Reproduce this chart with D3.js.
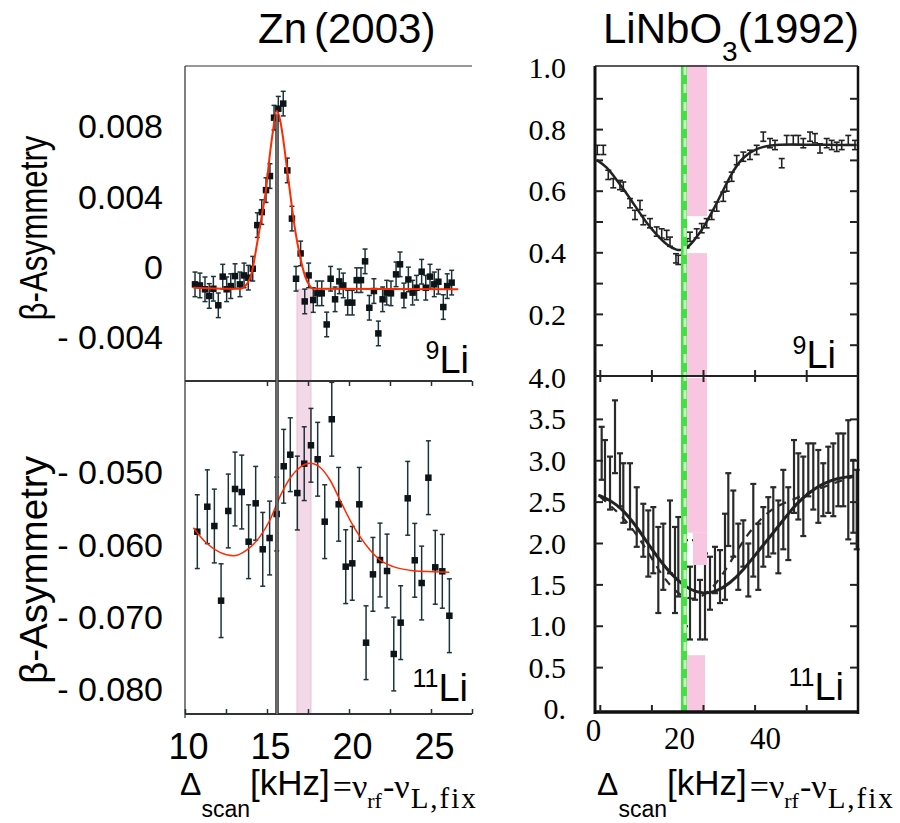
<!DOCTYPE html>
<html>
<head>
<meta charset="utf-8">
<script src="https://cdn.jsdelivr.net/npm/d3@7"></script>
<style>
  body { margin: 0; background: #fff; }
  svg { display: block; }
  .sans { font-family: "Liberation Sans", Arial, sans-serif; }
  .serif { font-family: "Liberation Serif", "Times New Roman", serif; }
</style>
</head>
<body>
<svg id="chart" width="900" height="823"></svg>
<script>
// ---- Zn (2003), 9Li ----
const zn9Freq = [10.61, 10.91, 11.22, 11.48, 11.73, 12.03, 12.30, 12.54, 12.79, 13.05, 13.35, 13.60, 13.86, 14.13, 14.41, 14.68, 14.94, 15.18, 15.43, 15.69, 15.99, 16.24, 16.52, 16.77, 17.05, 17.30, 17.54, 17.82, 18.07, 18.34, 18.64, 18.88, 19.15, 19.41, 19.65, 19.92, 20.20, 20.47, 20.73, 20.98, 21.24, 21.52, 21.79, 22.05, 22.30, 22.56, 22.87, 23.11, 23.35, 23.62, 23.88, 24.12, 24.43, 24.68, 24.94, 25.20, 25.45, 25.75, 25.99, 26.26];
const zn9Asym = [-0.00095, -0.00101, -0.00123, -0.00161, -0.00120, -0.00214, -0.00051, -0.00123, -0.00105, -0.00048, -0.00095, -0.00044, -0.00057, -0.00006, 0.00242, 0.00316, 0.00441, 0.00521, 0.00853, 0.00904, 0.00933, 0.00553, 0.00279, -0.00063, 0.00081, -0.00192, -0.00044, -0.00184, -0.00146, -0.00146, -0.00323, -0.00063, -0.00180, -0.00078, -0.00101, -0.00199, -0.00199, -0.00071, -0.00071, 0.00036, -0.00228, -0.00133, -0.00374, -0.00180, -0.00142, -0.00146, -0.00038, 0.00019, -0.00158, -0.00067, -0.00142, -0.00114, -0.00023, -0.00114, -0.00051, -0.00095, -0.00080, -0.00224, -0.00105, -0.00085];
const zn9Err = 0.0007;
const zn9FitFreq = [10.51, 13.35, 13.76, 14.07, 14.37, 14.68, 14.94, 15.14, 15.35, 15.59, 15.79, 15.99, 16.20, 16.46, 16.71, 17.01, 17.32, 17.62, 17.82, 26.66];
const zn9FitAsym = [-0.00114, -0.00120, -0.00095, -0.00029, 0.00123, 0.00294, 0.00445, 0.00616, 0.00768, 0.00891, 0.00844, 0.00730, 0.00578, 0.00389, 0.00218, 0.00066, -0.00048, -0.00105, -0.00120, -0.00123];

// ---- Zn (2003), 11Li ----
const zn11Freq = [10.75, 11.36, 11.79, 12.20, 12.64, 13.05, 13.46, 13.88, 14.31, 14.74, 15.16, 15.59, 16.02, 16.42, 16.85, 17.27, 17.68, 18.09, 18.52, 18.95, 19.37, 19.80, 20.20, 20.63, 21.04, 21.46, 21.89, 22.32, 22.73, 23.15, 23.58, 24.01, 24.43, 24.84, 25.26, 25.69, 26.12];
const zn11Asym = [-0.05811, -0.05466, -0.05733, -0.06765, -0.05525, -0.05221, -0.05263, -0.05950, -0.05419, -0.06055, -0.05899, -0.05567, -0.04907, -0.04747, -0.05277, -0.04871, -0.04617, -0.04810, -0.05673, -0.04257, -0.05433, -0.06295, -0.06249, -0.05433, -0.07346, -0.06401, -0.06203, -0.06355, -0.07502, -0.07069, -0.05350, -0.06207, -0.06521, -0.05065, -0.06304, -0.06359, -0.06973];
const zn11Err = 0.0051;
const zn11FitFreq = [10.51, 11.32, 12.13, 12.95, 13.76, 14.57, 15.18, 15.79, 16.40, 17.01, 17.62, 18.23, 18.84, 19.45, 20.06, 20.67, 21.28, 21.89, 22.70, 23.92, 25.14, 26.12];
const zn11FitAsym = [-0.05756, -0.05972, -0.06097, -0.06143, -0.06065, -0.05880, -0.05650, -0.05327, -0.05073, -0.04921, -0.04866, -0.04921, -0.05097, -0.05373, -0.05650, -0.05880, -0.06065, -0.06203, -0.06295, -0.06350, -0.06364, -0.06373];

const znMarkerFreq = 15.61;
const znBand = [16.83, 17.68];

// ---- LiNbO3 (1992), 9Li ----
const lnb9Freq = [0.30, 1.70, 2.86, 4.02, 5.58, 6.35, 7.91, 9.07, 10.23, 11.00, 12.56, 14.12, 15.28, 16.44, 17.21, 18.60, 19.14, 21.09, 21.86, 23.42, 24.58, 25.74, 26.91, 28.07, 29.60, 30.40, 31.56, 32.72, 34.26, 35.81, 37.37, 38.91, 40.47, 41.63, 43.19, 44.35, 45.88, 47.05, 48.21, 49.77, 50.93, 52.09, 53.65, 54.81, 55.98, 57.14, 58.67, 60.23];
const lnb9Asym = [0.734, 0.734, 0.653, 0.626, 0.620, 0.615, 0.561, 0.523, 0.555, 0.506, 0.496, 0.469, 0.463, 0.458, 0.436, 0.382, 0.377, 0.431, 0.452, 0.463, 0.480, 0.496, 0.523, 0.550, 0.582, 0.615, 0.647, 0.701, 0.712, 0.718, 0.734, 0.777, 0.756, 0.750, 0.691, 0.766, 0.766, 0.766, 0.756, 0.777, 0.772, 0.739, 0.756, 0.750, 0.744, 0.750, 0.766, 0.750];
const lnb9Err = 0.015;
const lnb9FitFreq = [0.16, 2.49, 4.81, 7.14, 9.47, 11.79, 14.12, 16.44, 18.77, 20.70, 22.63, 24.95, 27.28, 29.60, 31.93, 34.26, 37.37, 40.47, 45.12, 52.86, 60.63];
const lnb9FitAsym = [0.701, 0.680, 0.636, 0.593, 0.544, 0.496, 0.458, 0.425, 0.407, 0.409, 0.436, 0.480, 0.539, 0.604, 0.669, 0.712, 0.739, 0.750, 0.753, 0.750, 0.750];

// ---- LiNbO3 (1992), 11Li ----
const lnb11Freq = [1.32, 2.09, 3.26, 4.42, 5.58, 6.35, 7.91, 9.47, 11.00, 12.16, 13.33, 14.49, 15.65, 17.21, 18.37, 19.14, 20.70, 21.86, 23.02, 24.19, 25.35, 26.51, 27.67, 28.84, 30.00, 30.77, 31.93, 33.09, 34.26, 35.42, 36.58, 37.74, 38.91, 40.07, 41.23, 42.40, 43.56, 44.72, 46.05, 47.05, 48.21, 49.37, 50.53, 51.70, 52.86, 54.02, 55.19, 56.35, 57.51, 58.67, 59.84, 60.63];
const lnb11Asym = [3.09, 2.89, 2.73, 3.29, 2.77, 2.61, 2.57, 2.32, 2.16, 2.00, 2.04, 1.68, 1.84, 2.08, 1.68, 1.84, 1.52, 1.28, 1.68, 1.20, 1.36, 1.52, 1.68, 1.60, 1.84, 2.41, 2.24, 1.84, 2.00, 1.68, 2.16, 1.84, 2.08, 2.20, 2.28, 2.08, 2.41, 2.24, 2.81, 2.69, 2.57, 2.89, 2.81, 2.69, 2.65, 2.77, 2.77, 2.89, 2.89, 2.77, 2.57, 2.41];
const lnb11Err = [0.32, 0.36, 0.32, 0.44, 0.32, 0.36, 0.40, 0.36, 0.32, 0.40, 0.40, 0.52, 0.40, 0.44, 0.52, 0.48, 0.52, 0.44, 0.36, 0.36, 0.52, 0.32, 0.28, 0.32, 0.52, 0.44, 0.40, 0.40, 0.28, 0.32, 0.56, 0.40, 0.36, 0.36, 0.40, 0.44, 0.48, 0.44, 0.44, 0.40, 0.48, 0.32, 0.40, 0.44, 0.32, 0.40, 0.44, 0.44, 0.44, 0.72, 0.44, 0.48];
const lnb11FitFreq = [0.53, 3.26, 6.35, 9.47, 12.56, 15.65, 18.77, 21.86, 24.95, 28.07, 31.16, 34.26, 37.37, 40.47, 43.56, 46.67, 49.77, 52.86, 55.98, 59.84];
const lnb11FitAsym = [2.586, 2.526, 2.405, 2.203, 1.961, 1.740, 1.559, 1.438, 1.390, 1.418, 1.519, 1.680, 1.882, 2.082, 2.284, 2.486, 2.626, 2.728, 2.788, 2.816];
const lnb11Fit2Freq = [0.93, 6.35, 11.00, 14.88, 18.77, 21.86, 24.95, 28.07, 31.16, 34.26, 37.37, 40.47, 43.56, 47.44, 52.86, 59.84];
const lnb11Fit2Asym = [2.566, 2.324, 2.002, 1.640, 1.398, 1.317, 1.357, 1.519, 1.761, 2.042, 2.244, 2.405, 2.486, 2.566, 2.686, 2.807];

const lnbGreen = [19.77, 21.16];
// [freq0, freq1, asym0, asym1]
const lnbPink9 = [[21.16, 25.81, 0.519, 1.01], [21.16, 25.81, 0, 0.399]];
const lnbPink11 = [[21.16, 25.81, 2.13, 4.0], [22.56, 25.81, 1.74, 2.13], [21.16, 25.35, -0.04, 0.65]];

// ---- tick labels ----
const zn9Ticks = [0.008, 0.004, 0, -0.004];
const zn9TickText = ["0.008", "0.004", "0", "- 0.004"];
const zn11Ticks = [-0.050, -0.060, -0.070, -0.080];
const zn11TickText = ["- 0.050", "- 0.060", "- 0.070", "- 0.080"];
const znFreqTicks = [10, 15, 20, 25];
const lnb9Ticks = [1.0, 0.8, 0.6, 0.4, 0.2];
const lnb11Ticks = [4.0, 3.5, 3.0, 2.5, 2.0, 1.5, 1.0, 0.5, 0];
const lnbFreqTicks = [0, 20, 40];

const svg = d3.select("#chart");

// scales
const xL = d3.scaleLinear().domain([10, 27.5]).range([185, 472]);
const yL9 = d3.scaleLinear().domain([-0.004, 0.008]).range([338, 127]);
const yL11 = d3.scaleLinear().domain([-0.080, -0.050]).range([690, 473]);
const xR = d3.scaleLinear().domain([0, 40]).range([596, 768]);
const yR9 = d3.scaleLinear().domain([0, 1]).range([376, 68]);
const yR11 = d3.scaleLinear().domain([0, 4]).range([709, 378]);

const L = { left: 185, right: 472, top: 66, mid: 381, bottom: 714 };
const R = { left: 595, right: 858, top: 66, mid: 376, bottom: 712 };

function zipPts(f, a, e) {
  return f.map(function (d, i) {
    return { f: d, a: a[i], e: Array.isArray(e) ? e[i] : e };
  });
}

function drawErrors(g, pts, x, y, o) {
  const eg = g.append("g").attr("stroke", o.color).attr("stroke-width", o.width);
  eg.selectAll(null).data(pts).enter().append("line")
    .attr("x1", d => x(d.f)).attr("x2", d => x(d.f))
    .attr("y1", d => y(d.a - d.e)).attr("y2", d => y(d.a + d.e));
  [1, -1].forEach(function (s) {
    eg.selectAll(null).data(pts).enter().append("line")
      .attr("x1", d => x(d.f) - o.cap).attr("x2", d => x(d.f) + o.cap)
      .attr("y1", d => y(d.a + s * d.e)).attr("y2", d => y(d.a + s * d.e));
  });
}

function drawSquares(g, pts, x, y, size) {
  g.append("g").selectAll("rect").data(pts).enter().append("rect")
    .attr("x", d => x(d.f) - size / 2)
    .attr("y", d => y(d.a) - size / 2)
    .attr("width", size).attr("height", size)
    .attr("fill", "#0b1418");
}

function drawFit(g, fx, fy, x, y, stroke, width, dash, curve) {
  const line = d3.line()
    .x(d => x(d[0])).y(d => y(d[1]))
    .curve(curve || d3.curveMonotoneX);
  g.append("path")
    .datum(d3.zip(fx, fy))
    .attr("d", line)
    .attr("fill", "none")
    .attr("stroke", stroke)
    .attr("stroke-width", width)
    .attr("stroke-dasharray", dash || null);
}

function hline(x1, x2, y, stroke, w) {
  svg.append("line").attr("x1", x1).attr("x2", x2).attr("y1", y).attr("y2", y)
    .attr("stroke", stroke).attr("stroke-width", w);
}
function vline(x, y1, y2, stroke, w) {
  svg.append("line").attr("x1", x).attr("x2", x).attr("y1", y1).attr("y2", y2)
    .attr("stroke", stroke).attr("stroke-width", w);
}

function labelAxis(axis, tx, ty, cls, size) {
  const g = svg.append("g")
    .attr("transform", `translate(${tx},${ty})`)
    .call(axis);
  g.select(".domain").remove();
  g.selectAll(".tick line").remove();
  g.selectAll("text")
    .attr("class", cls)
    .attr("fill", "#000")
    .style("font-size", size + "px");
  return g;
}

// ================= LEFT: Zn (2003) =================
const gL = svg.append("g");

// pink band
gL.append("rect")
  .attr("x", xL(znBand[0]))
  .attr("width", xL(znBand[1]) - xL(znBand[0]))
  .attr("y", yL9(zn9FitAsym[zn9FitAsym.length - 1]))
  .attr("height", L.bottom - yL9(zn9FitAsym[zn9FitAsym.length - 1]))
  .attr("fill", "#f3d9e8")
  .attr("stroke", "#ebbfd6")
  .attr("stroke-width", 1);

// frame
vline(L.left, L.top, L.bottom + 4, "#555", 1.5);
hline(L.left, L.right, L.top, "#333", 1.2);
hline(L.left, L.right, L.mid, "#333", 2);
hline(L.left, L.right, L.bottom, "#333", 2);

// tick marks
const xTickVals = d3.range(10, 27.6, 2.5);
svg.append("g").attr("transform", `translate(0,${L.bottom})`)
  .call(d3.axisBottom(xL).tickValues(xTickVals).tickSize(-5).tickFormat(""))
  .call(g => g.select(".domain").remove())
  .selectAll("line").attr("stroke", "#1e3339").attr("stroke-width", 1.5);
svg.append("g").attr("transform", `translate(0,${L.mid})`)
  .call(d3.axisBottom(xL).tickValues(xTickVals.slice(2)).tickSize(5).tickFormat(""))
  .call(g => g.select(".domain").remove())
  .selectAll("line").attr("stroke", "#1e3339").attr("stroke-width", 1.5);

// marker line (double)
vline(xL(znMarkerFreq), yL9(0.0087), L.bottom, "#2a2a2a", 3.5);
vline(xL(znMarkerFreq), yL9(0.0087), L.bottom, "#aaa", 1);

// 9Li data
const zn9Pts = zipPts(zn9Freq, zn9Asym, zn9Err);
drawErrors(gL, zn9Pts, xL, yL9, { color: "#1e3339", width: 1.5, cap: 2.5 });
drawSquares(gL, zn9Pts, xL, yL9, 6.5);
drawFit(gL, zn9FitFreq, zn9FitAsym, xL, yL9, "#ff2a00", 2);

// 11Li data
const zn11Pts = zipPts(zn11Freq, zn11Asym, zn11Err);
drawErrors(gL, zn11Pts, xL, yL11, { color: "#1e3339", width: 1.5, cap: 2.5 });
drawSquares(gL, zn11Pts, xL, yL11, 6.5);
drawFit(gL, zn11FitFreq, zn11FitAsym, xL, yL11, "#ff2a00", 1.5);

// y tick labels
labelAxis(d3.axisLeft(yL9).tickValues(zn9Ticks).tickSize(0).tickPadding(0)
  .tickFormat((d, i) => zn9TickText[i]), 163, 0, "sans", 34);
labelAxis(d3.axisLeft(yL11).tickValues(zn11Ticks).tickSize(0).tickPadding(0)
  .tickFormat((d, i) => zn11TickText[i]), 163, 0, "sans", 34);

// x tick labels
labelAxis(d3.axisBottom(xL).tickValues(znFreqTicks).tickSize(0).tickPadding(0)
  .tickFormat(d3.format("d")), 3, 733, "sans", 36);

// axis titles
[[228, 185], [570, 228]].forEach(function (p) {
  svg.append("text")
    .attr("class", "sans")
    .attr("transform", `translate(47,${p[0]}) rotate(-90)`)
    .attr("text-anchor", "middle")
    .attr("textLength", p[1])
    .attr("lengthAdjust", "spacingAndGlyphs")
    .style("font-size", "39px")
    .text("β-Asymmetry");
});

// isotope labels
function isoLabel(x, y, mass) {
  const t = svg.append("text").attr("class", "sans").attr("x", x).attr("y", y)
    .attr("text-anchor", "end");
  t.append("tspan").style("font-size", "25px").attr("dy", -14).text(mass);
  t.append("tspan").style("font-size", "38px").attr("dy", 14).text("Li");
}
isoLabel(469, 373, "9");
isoLabel(468, 701, "11");

// ================= RIGHT: LiNbO3 (1992) =================
const gR = svg.append("g");

const lnb9Pts = zipPts(lnb9Freq, lnb9Asym, lnb9Err);
drawErrors(gR, lnb9Pts, xR, yR9, { color: "#222", width: 1.6, cap: 3 });
drawFit(gR, lnb9FitFreq, lnb9FitAsym, xR, yR9, "#222", 2.5, null, d3.curveBasis);

const lnb11Pts = zipPts(lnb11Freq, lnb11Asym, lnb11Err);
drawErrors(gR, lnb11Pts, xR, yR11, { color: "#2a2a2a", width: 2.2, cap: 3 });
drawFit(gR, lnb11Fit2Freq, lnb11Fit2Asym, xR, yR11, "#2a2a2a", 2.2, "8,7", d3.curveBasis);
drawFit(gR, lnb11FitFreq, lnb11FitAsym, xR, yR11, "#222", 3, null, d3.curveBasis);

// frame
vline(R.left, R.top, R.bottom + 2, "#111", 3);
vline(R.right, R.top, R.bottom + 2, "#111", 2.5);
hline(R.left, R.right, R.top, "#222", 1.5);
hline(R.left, R.right, R.mid, "#222", 2);
hline(R.left - 1, R.right + 1, R.bottom, "#111", 3.5);

// inner ticks
function innerTicks(scale, vals, x, len) {
  const g = svg.append("g").attr("stroke", "#222").attr("stroke-width", 2);
  g.selectAll(null).data(vals).enter().append("line")
    .attr("x1", x).attr("x2", x + len)
    .attr("y1", d => scale(d)).attr("y2", d => scale(d));
}
innerTicks(yR9, d3.range(0.1, 0.95, 0.1), R.left, 8);
innerTicks(yR9, d3.range(0.1, 0.95, 0.1), R.right, -8);
innerTicks(yR11, d3.range(0.5, 3.6, 0.5), R.left, 8);
innerTicks(yR11, d3.range(0.5, 3.6, 0.5), R.right, -8);
const xRTicks = d3.range(1, 60, 12);
[[R.mid, -6], [R.mid, 6], [R.bottom, -7]].forEach(function (p) {
  svg.append("g").attr("stroke", "#222").attr("stroke-width", 2)
    .selectAll(null).data(xRTicks).enter().append("line")
    .attr("x1", d => xR(d)).attr("x2", d => xR(d))
    .attr("y1", p[0]).attr("y2", p[0] + p[1]);
});

// green and pink bands (over the data, as in the reference)
gR.append("rect")
  .attr("x", xR(lnbGreen[0])).attr("width", xR(lnbGreen[1]) - xR(lnbGreen[0]))
  .attr("y", R.top).attr("height", R.bottom - R.top)
  .attr("fill", "#3fe23f");
gR.append("line")
  .attr("x1", xR(lnbGreen[1]) - 2).attr("x2", xR(lnbGreen[1]) - 2)
  .attr("y1", R.top).attr("y2", R.bottom)
  .attr("stroke", "#c9f5c2").attr("stroke-width", 3)
  .attr("stroke-dasharray", "9,9");
gR.selectAll(".pink9").data(lnbPink9).enter().append("rect")
  .attr("x", d => xR(d[0])).attr("width", d => xR(d[1]) - xR(d[0]))
  .attr("y", d => yR9(d[3])).attr("height", d => yR9(d[2]) - yR9(d[3]))
  .attr("fill", "#f8c6e0");
gR.selectAll(".pink11").data(lnbPink11).enter().append("rect")
  .attr("x", d => xR(d[0])).attr("width", d => xR(d[1]) - xR(d[0]))
  .attr("y", d => yR11(d[3])).attr("height", d => yR11(d[2]) - yR11(d[3]))
  .attr("fill", "#f8c6e0");

// tick labels
labelAxis(d3.axisLeft(yR9).tickValues(lnb9Ticks).tickSize(0).tickPadding(0)
  .tickFormat(d3.format(".1f")), 566, 0, "serif", 30);
labelAxis(d3.axisLeft(yR11).tickValues(lnb11Ticks).tickSize(0).tickPadding(0)
  .tickFormat(d => d === 0 ? "0." : d3.format(".1f")(d)), 566, 0, "serif", 30);
labelAxis(d3.axisBottom(xR).tickValues(lnbFreqTicks).tickSize(0).tickPadding(0)
  .tickFormat(d3.format("d")), -3, 727, "serif", 31)
  .selectAll("text").filter(d => d === 0).attr("y", -8);

isoLabel(836, 368, "9");
isoLabel(844, 700, "11");

// ================= titles =================
const t1 = svg.append("text").attr("class", "sans").attr("x", 258).attr("y", 43)
  .style("font-size", "42px");
t1.append("tspan").text("Zn");
t1.append("tspan").attr("dx", 7).text("(2003)");

const t2 = svg.append("text").attr("class", "sans").attr("x", 603).attr("y", 43)
  .style("font-size", "42px");
t2.append("tspan").text("LiNbO");
t2.append("tspan").attr("dy", 18).style("font-size", "28px").text("3");
t2.append("tspan").attr("dy", -18).text("(1992)");

// x-axis title: one text, pieces as tspans (sub/superscript via dy)
function scanTitle(x0) {
  const t = svg.append("text").attr("x", x0).attr("y", 795);
  t.append("tspan").attr("class", "sans").style("font-size", "32px").text("Δ");
  t.append("tspan").attr("class", "sans").style("font-size", "23px")
    .attr("dy", 22).text("scan");
  t.append("tspan").attr("class", "sans").style("font-size", "35px")
    .attr("dy", -22).text("[kHz]");
  t.append("tspan").attr("class", "serif").style("font-size", "34px")
    .attr("dx", 3).attr("dy", 3).text("=ν");
  t.append("tspan").attr("class", "serif").style("font-size", "22px")
    .attr("dy", 10).text("rf");
  t.append("tspan").attr("class", "serif").style("font-size", "34px")
    .attr("dx", 1).attr("dy", -10).text("-ν");
  t.append("tspan").attr("class", "serif").style("font-size", "29px")
    .style("letter-spacing", "2px").attr("dx", 1).attr("dy", 10).text("L,fix");
}
scanTitle(180);
scanTitle(597);
</script>
</body>
</html>
